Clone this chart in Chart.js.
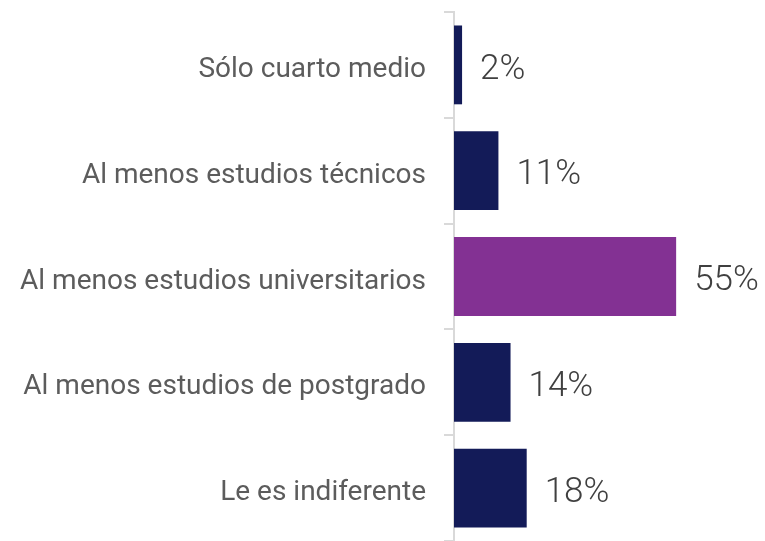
<!DOCTYPE html>
<html>
<head>
<meta charset="utf-8">
<script src="https://cdn.jsdelivr.net/npm/chart.js@4"></script>
<style>
  body { margin: 0; background: #fff; }
  #wrap { width: 765px; height: 541px; position: relative; }
</style>
</head>
<body>
<div id="wrap"><canvas id="chart"></canvas></div>
<script>
const categories = [
    'Sólo cuarto medio',
    'Al menos estudios técnicos',
    'Al menos estudios universitarios',
    'Al menos estudios de postgrado',
    'Le es indiferente'
];
const values = [2, 11, 55, 14, 18];
const barColors = ['#131b58', '#131b58', '#833193', '#131b58', '#131b58'];

// etichette dei valori a destra delle barre
const valueLabels = {
    id: 'valueLabels',
    afterDatasetsDraw(chart) {
        const ctx = chart.ctx;
        const meta = chart.getDatasetMeta(0);
        ctx.save();
        ctx.font = '300 35px Roboto';
        ctx.fillStyle = '#404040';
        ctx.textAlign = 'left';
        ctx.textBaseline = 'middle';
        meta.data.forEach((bar, i) => {
            ctx.fillText(values[i] + '%', bar.x + 18, bar.y + 5);
        });
        ctx.restore();
    }
};

new Chart(document.getElementById('chart').getContext('2d'), {
    type: 'bar',
    data: {
        labels: categories,
        datasets: [{
            data: values,
            backgroundColor: barColors,
            barPercentage: 0.745,
            categoryPercentage: 1
        }]
    },
    options: {
        indexAxis: 'y',
        responsive: true,
        maintainAspectRatio: false,
        animation: false,
        layout: { padding: { top: 12, right: 0, bottom: -2, left: 0 } },
        plugins: { legend: { display: false }, tooltip: { enabled: false } },
        scales: {
            x: { display: false, min: 0, max: 77 },
            y: {
                afterFit: s => { s.width = 454; s.paddingTop = 0; s.paddingBottom = 0; },
                border: { display: true, color: '#d9d9d9', width: 2 },
                grid: { offset: true, drawOnChartArea: false, color: '#d9d9d9', tickLength: 10, lineWidth: 2 },
                ticks: { color: '#5c5c5c', padding: 18, labelOffset: 5, font: { family: 'Roboto', size: 28 } }
            }
        }
    },
    plugins: [valueLabels]
});
</script>
</body>
</html>
